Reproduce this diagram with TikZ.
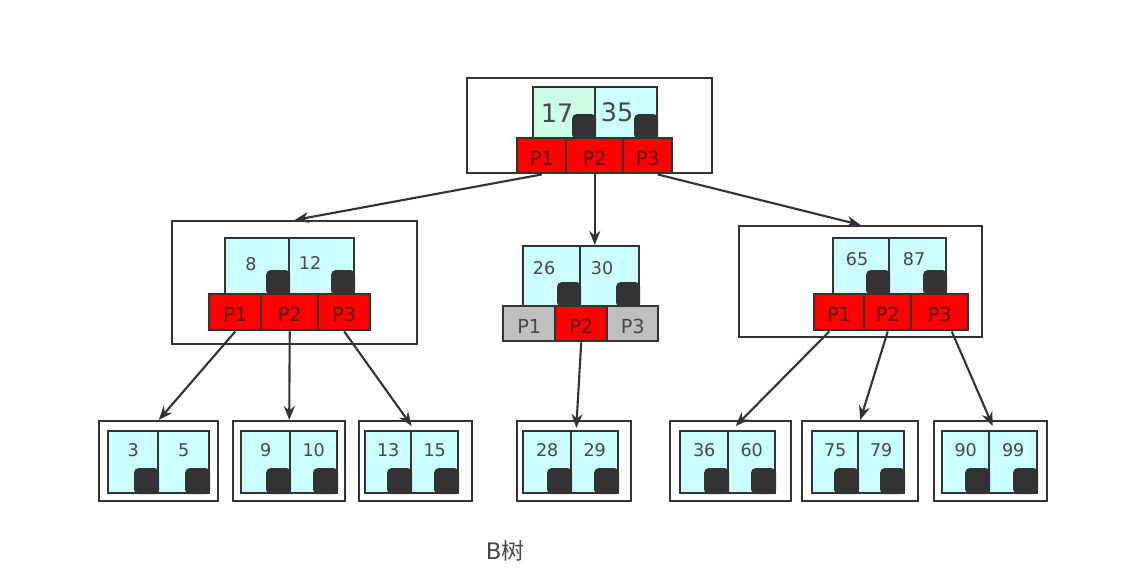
\documentclass[tikz,border=0pt]{standalone}
\usepackage{fontspec}
\setmainfont{DejaVu Sans}
\newfontfamily\cjk{Noto Sans CJK SC}
\usetikzlibrary{arrows.meta,calc}
\definecolor{keycyan}{HTML}{CCFFFF}
\definecolor{keygreen}{HTML}{CCFFE6}
\definecolor{ptrred}{HTML}{FF0000}
\definecolor{ptrgrey}{HTML}{BFBFBF}
\definecolor{ptrtext}{HTML}{5A1414}
\definecolor{ink}{HTML}{333333}
\tikzset{
  pxsize/.style 2 args={minimum width=(#1)*0.02cm, minimum height=(#2)*0.02cm},
  outerbox/.style={draw=ink, line width=1.4pt, fill=white, inner sep=0pt, anchor=north west},
  keycell/.style={draw=ink, line width=1.4pt, fill=keycyan, inner sep=0pt, anchor=north west},
  darkkey/.style={fill=ink, rounded corners=2.5pt, inner sep=0pt, anchor=south east,
    minimum width=0.48cm, minimum height=0.5cm},
  pcell/.style={draw=ink, line width=1.4pt, fill=ptrred, inner sep=0pt, anchor=north west,
    text=ptrtext, text height=11pt, text depth=0pt, font=\fontsize{11}{13}\selectfont},
  greycell/.style={pcell, fill=ptrgrey, text=ink!90},
  keytext/.style={text=ink!90, inner sep=0pt, font=\fontsize{10}{12}\selectfont},
  link/.style={draw=ink, line width=1.2pt, -{Stealth[length=0.28cm,width=0.22cm]}},
}
\begin{document}
\begin{tikzpicture}[x=0.02cm, y=-0.02cm]
    \useasboundingbox (0,0) rectangle (1124,575);
    % root
    \node[outerbox, pxsize={245}{95}] (tbox) at (466,77) {};
    \node[keycell, fill=keygreen, pxsize={62}{51}] (tk1) at (532,86) {};
    \node[keycell, pxsize={62}{51}] (tk2) at (594,86) {};
    \node[darkkey] at (tk1.south east) {};
    \node[darkkey] at (tk2.south east) {};
    \node[keytext, font=\fontsize{14.5}{17}\selectfont] at (557,113) {17};
    \node[keytext, font=\fontsize{14.5}{17}\selectfont] at (617,112) {35};
    \node[pcell, pxsize={49}{35}] (tp1) at (516,137) {P1};
    \node[pcell, pxsize={57}{35}] (tp2) at (565,137) {P2};
    \node[pcell, pxsize={49}{35}] (tp3) at (622,137) {P3};
    % left
    \node[outerbox, pxsize={245}{123}] (lbox) at (171,220) {};
    \node[keycell, pxsize={64}{56}] (lk1) at (224,237) {};
    \node[keycell, pxsize={65}{56}] (lk2) at (288,237) {};
    \node[darkkey] at (lk1.south east) {};
    \node[darkkey] at (lk2.south east) {};
    \node[keytext] at (251,264) {8};
    \node[keytext] at (310,263) {12};
    \node[pcell, pxsize={52}{36}] (lp1) at (208,293) {P1};
    \node[pcell, pxsize={57}{36}] (lp2) at (260,293) {P2};
    \node[pcell, pxsize={52}{36}] (lp3) at (317,293) {P3};
    % middle
    \node[keycell, pxsize={57}{60}] (mk1) at (522,245) {};
    \node[keycell, pxsize={59}{60}] (mk2) at (579,245) {};
    \node[darkkey] at (mk1.south east) {};
    \node[darkkey] at (mk2.south east) {};
    \node[keytext] at (544,268) {26};
    \node[keytext] at (602,268) {30};
    \node[greycell, pxsize={52}{35}] (mp1) at (502,305) {P1};
    \node[pcell, pxsize={52}{35}] (mp2) at (554,305) {P2};
    \node[greycell, pxsize={51}{35}] (mp3) at (606,305) {P3};
    % right
    \node[outerbox, pxsize={243}{111}] (rbox) at (738,225) {};
    \node[keycell, pxsize={56}{56}] (rk1) at (832,237) {};
    \node[keycell, pxsize={57}{56}] (rk2) at (888,237) {};
    \node[darkkey] at (rk1.south east) {};
    \node[darkkey] at (rk2.south east) {};
    \node[keytext] at (857,259) {65};
    \node[keytext] at (914,259) {87};
    \node[pcell, pxsize={50}{36}] (rp1) at (813,293) {P1};
    \node[pcell, pxsize={47}{36}] (rp2) at (863,293) {P2};
    \node[pcell, pxsize={57}{36}] (rp3) at (910,293) {P3};
    % leaves
    \foreach \n/\a/\b/\c/\d/\e/\ka/\kb in {1/98/217/107/157/208/3/5, 2/232/344/240/289/336/9/10,
        3/358/471/364/410/457/13/15, 4/516/630/522/570/617/28/29, 5/669/790/679/727/774/36/60,
        6/801/917/811/857/903/75/79, 7/933/1046/941/988/1036/90/99} {
      \node[outerbox, pxsize={\b-\a}{80}] (leaf\n) at (\a,420) {};
      \node[keycell, pxsize={\d-\c}{62}] (leaf\n a) at (\c,430) {};
      \node[keycell, pxsize={\e-\d}{62}] (leaf\n b) at (\d,430) {};
      \node[darkkey, minimum width=0.5cm, minimum height=0.52cm] at (leaf\n a.south east) {};
      \node[darkkey, minimum width=0.5cm, minimum height=0.52cm] at (leaf\n b.south east) {};
      \node[keytext] at ($(leaf\n a.center)+(0,-12)$) {\ka};
      \node[keytext] at ($(leaf\n b.center)+(0,-12)$) {\kb};
    }
    % links
    \draw[link] (tp1.south) -- (lbox.north);
    \draw[link] (tp2.south) -- (tp2.south |- mk2.north);
    \draw[link] ($(tp3.south)+(10,0)$) -- (rbox.north);
    \draw[link] (lp1.south) -- (leaf1.north);
    \draw[link] (lp2.south) -- (leaf2.north);
    \draw[link] (lp3.south) -- ($(leaf3.north)+(-4,6)$);
    \draw[link] (mp2.south) -- ($(leaf4.north)+(2,8)$);
    \draw[link] ($(rp1.south)+(-10,0)$) -- ($(leaf5.north)+(5,6)$);
    \draw[link] (rp2.south) -- (leaf6.north);
    \draw[link] ($(rp3.south)+(12,0)$) -- ($(leaf7.north)+(2,6)$);
    \node[keytext, font=\fontsize{13}{15}\selectfont] (title) at (505,551) {B{\cjk 树}};
\end{tikzpicture}
\end{document}
